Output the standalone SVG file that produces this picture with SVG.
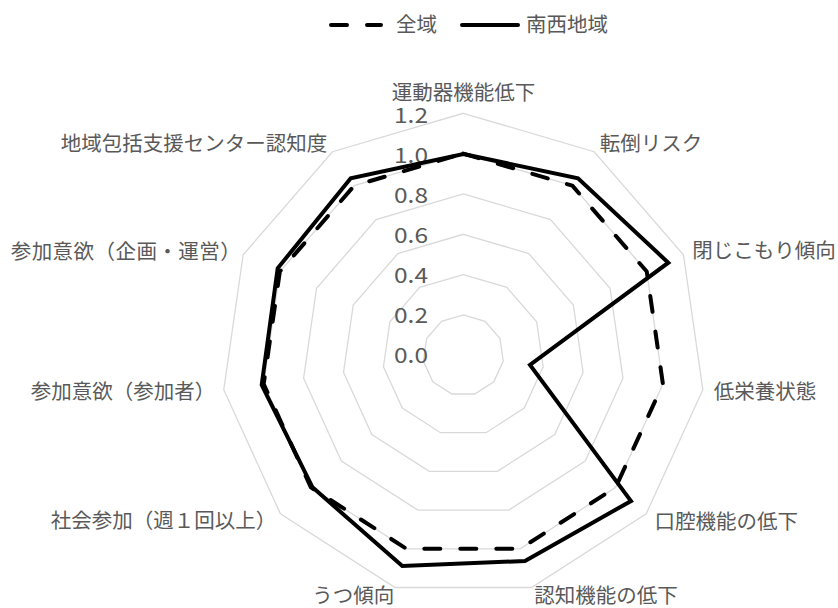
<svg xmlns="http://www.w3.org/2000/svg" width="838" height="608" viewBox="0 0 838 608">
<style>
.bg{fill:#ffffff}
.grid{fill:none;stroke:#d9d9d9;stroke-width:1.3}
.lbl{font-family:"Noto Sans CJK JP","Noto Sans",sans-serif;font-size:20.5px;fill:#595959}
.num{font-family:"Noto Sans CJK JP","Noto Sans",sans-serif;font-size:21px;fill:#595959;text-anchor:end}
.dash{fill:none;stroke:#000;stroke-width:4;stroke-dasharray:16 20;stroke-linecap:round;stroke-linejoin:round}
.solid{fill:none;stroke:#000;stroke-width:4;stroke-linejoin:miter;stroke-linecap:round}
</style>
<rect class="bg" x="0" y="0" width="838" height="608"/>
<g id="grid">
<polygon class="grid" points="463.3,314.97 485.1,321.37 499.99,338.55 503.22,361.04 493.78,381.71 474.66,394 451.94,394 432.82,381.71 423.38,361.04 426.61,338.55 441.5,321.37"/>
<polygon class="grid" points="463.3,274.63 506.91,287.44 536.68,321.79 543.15,366.78 524.27,408.13 486.03,432.7 440.57,432.7 402.33,408.13 383.45,366.78 389.92,321.79 419.69,287.44"/>
<polygon class="grid" points="463.3,234.3 528.72,253.51 573.37,305.03 583.07,372.52 554.75,434.54 497.39,471.4 429.21,471.4 371.85,434.54 343.53,372.52 353.23,305.03 397.88,253.51"/>
<polygon class="grid" points="463.3,193.97 550.52,219.58 610.05,288.28 622.99,378.26 585.23,460.95 508.75,510.1 417.85,510.1 341.37,460.95 303.61,378.26 316.55,288.28 376.08,219.58"/>
<polygon class="grid" points="463.3,153.63 572.33,185.64 646.74,271.52 662.92,384 615.71,487.37 520.12,548.8 406.48,548.8 310.89,487.37 263.68,384 279.86,271.52 354.27,185.64"/>
<polygon class="grid" points="463.3,113.3 594.13,151.72 683.43,254.77 702.84,389.74 646.19,513.78 531.48,587.5 395.12,587.5 280.41,513.78 223.76,389.74 243.17,254.77 332.47,151.72"/>
</g>
<g id="scale">
<text class="num" x="428" y="123" textLength="34" lengthAdjust="spacingAndGlyphs">1.2</text>
<text class="num" x="428" y="163" textLength="34" lengthAdjust="spacingAndGlyphs">1.0</text>
<text class="num" x="428" y="203" textLength="34" lengthAdjust="spacingAndGlyphs">0.8</text>
<text class="num" x="428" y="243" textLength="34" lengthAdjust="spacingAndGlyphs">0.6</text>
<text class="num" x="428" y="283" textLength="34" lengthAdjust="spacingAndGlyphs">0.4</text>
<text class="num" x="428" y="323" textLength="34" lengthAdjust="spacingAndGlyphs">0.2</text>
<text class="num" x="428" y="363" textLength="34" lengthAdjust="spacingAndGlyphs">0.0</text>
</g>
<g id="categories">
<text id="c0" class="lbl" x="463.5" y="99.5" text-anchor="middle">運動器機能低下</text>
<text id="c1" class="lbl" x="651" y="150.5" text-anchor="middle">転倒リスク</text>
<text id="c2" class="lbl" x="764" y="257.5" text-anchor="middle">閉じこもり傾向</text>
<text id="c3" class="lbl" x="765" y="398.5" text-anchor="middle">低栄養状態</text>
<text id="c4" class="lbl" x="726.3" y="528.5" text-anchor="middle">口腔機能の低下</text>
<text id="c5" class="lbl" x="606" y="602.5" text-anchor="middle">認知機能の低下</text>
<text id="c6" class="lbl" x="353.3" y="603" text-anchor="middle">うつ傾向</text>
<text id="c7" class="lbl" x="50.7" y="527.5">社会参加（週１回以上）</text>
<text id="c8" class="lbl" x="30.7" y="398.5">参加意欲（参加者）</text>
<text id="c9" class="lbl" x="10.7" y="258.5" textLength="230">参加意欲（企画・運営）</text>
<text id="c10" class="lbl" x="194" y="150.5" text-anchor="middle">地域包括支援センター認知度</text>
</g>
<g id="series">
<polygon id="zeniki" class="dash" points="463.3,153.63 572.33,185.64 646.74,271.52 662.92,384 615.71,487.37 520.12,548.8 406.48,548.8 310.89,487.37 263.68,384 279.86,271.52 354.27,185.64"/>
<polygon id="nansei" class="solid" points="463.3,154 578,178.3 668.3,262.7 530,365 631,501 525,561 402.3,566 312.5,487.3 261.7,385 277.7,268.3 350.7,178.3"/>
</g>
<g id="legend">
<line class="dash" x1="331" y1="25" x2="381" y2="25"/>
<text class="lbl" x="396" y="31.5">全域</text>
<line class="solid" x1="462" y1="25" x2="518" y2="25"/>
<text class="lbl" x="526" y="31.5">南西地域</text>
</g>
</svg>
